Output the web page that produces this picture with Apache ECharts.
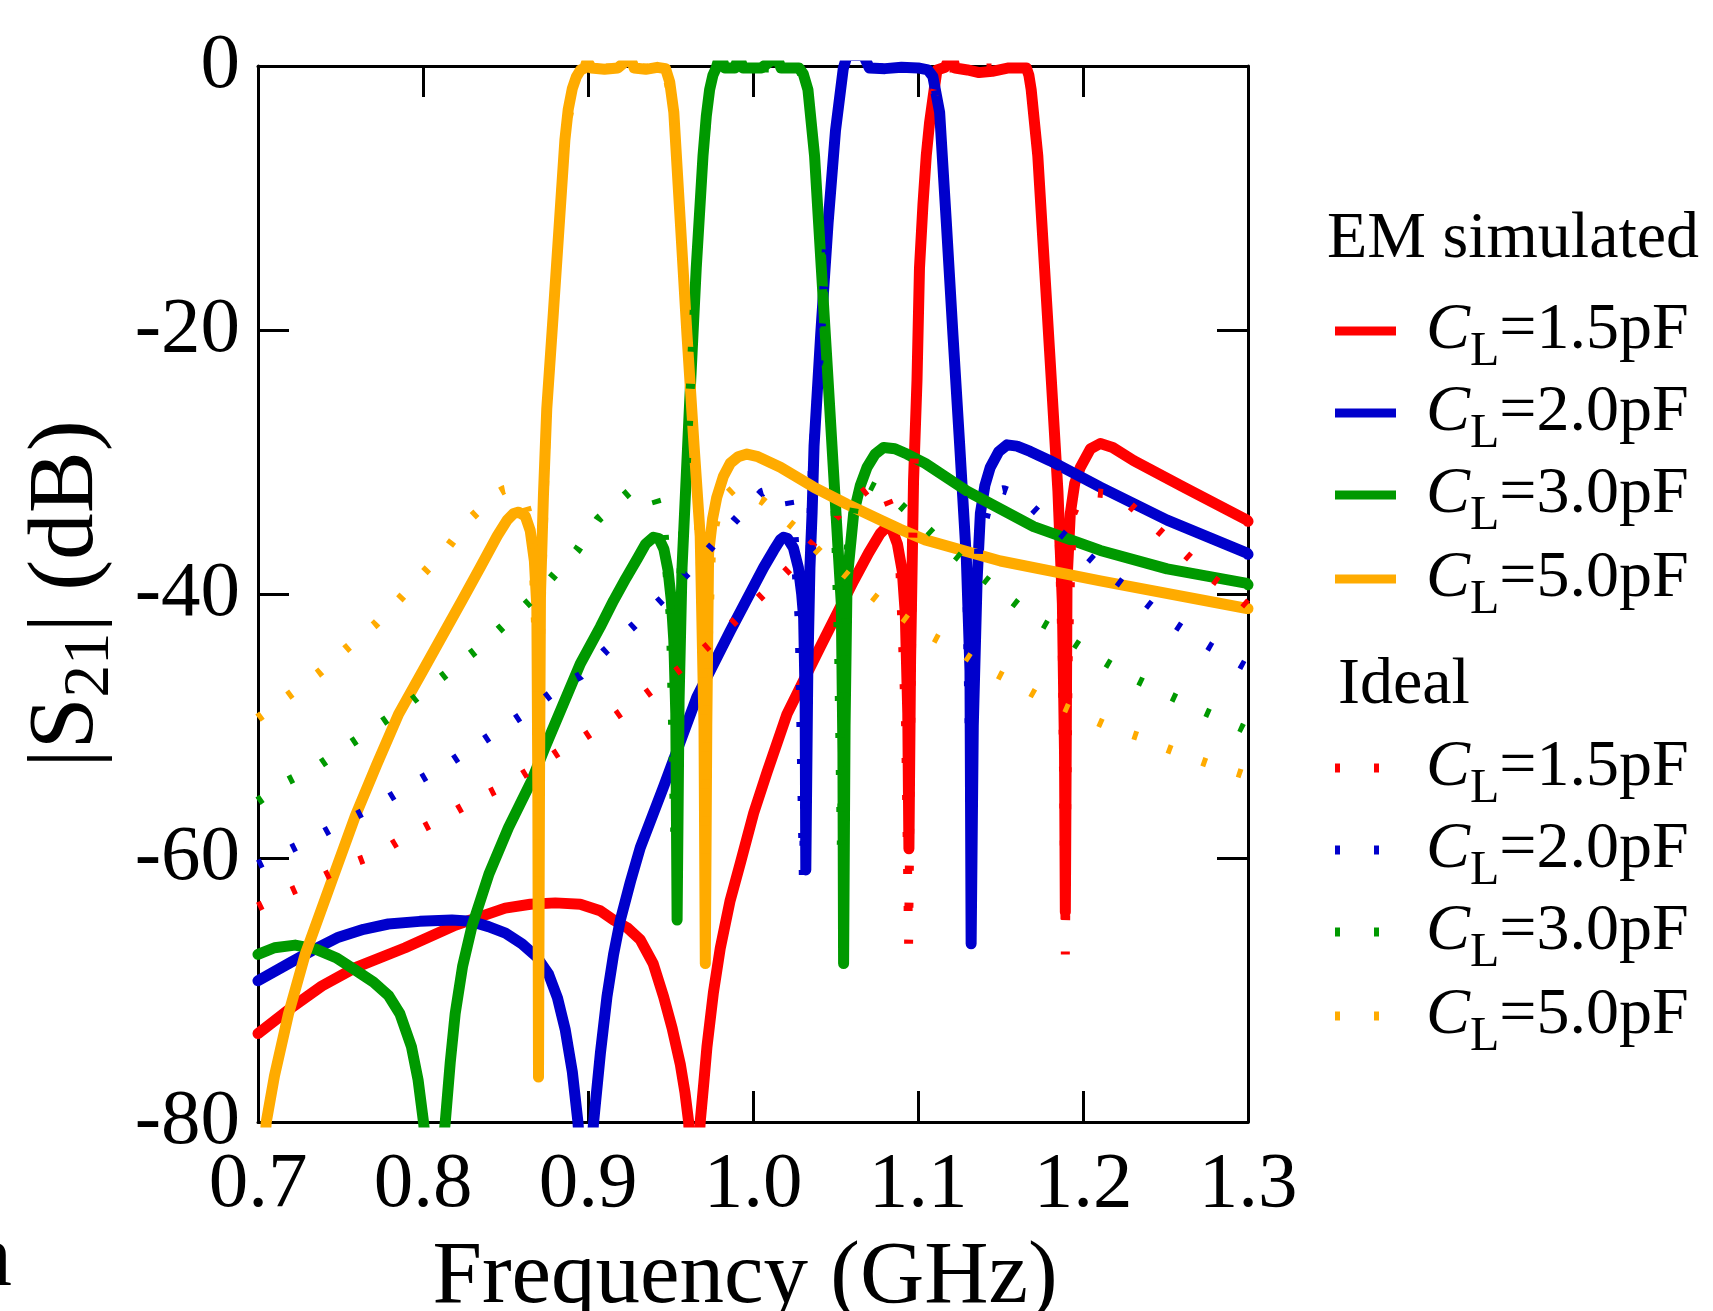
<!DOCTYPE html>
<html>
<head>
<meta charset="utf-8">
<title>|S21| vs frequency</title>
<script src="https://cdn.jsdelivr.net/npm/echarts@6/dist/echarts.min.js"></script>
<style>
  html, body { margin: 0; padding: 0; background: #fff; }
  #chart { width: 1713px; height: 1311px; }
</style>
</head>
<body>
<div id="chart"></div>
<script>
// tick labels
const xTickLabels = ['0.7', '0.8', '0.9', '1.0', '1.1', '1.2', '1.3']
const yTickLabels = ['-80', '-60', '-40', '-20', '0']

// legend text: C_L values
const capValues = ['1.5pF', '2.0pF', '3.0pF', '5.0pF']
const colors = ['#ff0000', '#0000cc', '#009900', '#ffab00']

// EM simulated, [GHz, dB]
const em15 = [[0.700,-73.3],[0.7185,-71.5],[0.7387,-69.7],[0.759,-68.3],[0.7892,-66.8],[0.8195,-65.1],[0.8498,-63.8],[0.865,-63.5],[0.8802,-63.4],[0.8953,-63.5],[0.9074,-64.0],[0.9155,-64.7],[0.924,-65.3],[0.9317,-66.2],[0.9395,-68.0],[0.9458,-70.5],[0.951,-72.9],[0.9559,-75.6],[0.9588,-77.8],[0.961,-80],[0.9645,-88],[0.968,-80],[0.9702,-77.0],[0.9721,-74.3],[0.976,-70.2],[0.9802,-66.8],[0.986,-63.3],[0.9923,-60.4],[1.0004,-56.6],[1.0085,-53.5],[1.0206,-49.1],[1.0408,-44.0],[1.061,-39.0],[1.07,-36.9],[1.0772,-35.4],[1.0812,-34.9],[1.0845,-35.2],[1.0875,-36.2],[1.0905,-38.3],[1.0923,-41.5],[1.0938,-49],[1.0945,-59.3],[1.0955,-45],[1.0973,-31.4],[1.0994,-23.8],[1.1009,-15.3],[1.103,-10.5],[1.105,-6.8],[1.107,-4.3],[1.109,-2.5],[1.1115,-0.3],[1.1165,-0.1],[1.119,0.6],[1.121,0.6],[1.1225,-0.15],[1.13,-0.3],[1.137,-0.5],[1.145,-0.4],[1.155,-0.15],[1.1657,-0.15],[1.1672,-0.7],[1.1686,-1.8],[1.1726,-6.8],[1.1767,-15.3],[1.1808,-23.8],[1.1848,-32.2],[1.1875,-40.7],[1.1888,-52],[1.1893,-64.1],[1.1899,-50],[1.1903,-39.0],[1.1923,-33.9],[1.195,-31.6],[1.1984,-30.4],[1.2045,-29.0],[1.2105,-28.6],[1.218,-28.9],[1.2307,-29.9],[1.261,-31.9],[1.2994,-34.4],[1.3,-34.5]]
const em20 = [[0.700,-69.3],[0.7185,-68.0],[0.733,-67.0],[0.7488,-66.0],[0.764,-65.4],[0.779,-65.0],[0.798,-64.8],[0.8175,-64.7],[0.829,-64.8],[0.8397,-65.2],[0.85,-65.7],[0.86,-66.5],[0.869,-67.5],[0.8761,-68.8],[0.8815,-70.6],[0.8862,-73.0],[0.8905,-76.2],[0.8939,-80],[0.8985,-88],[0.9034,-80],[0.9075,-74.8],[0.9115,-70.5],[0.9155,-67.3],[0.9196,-64.7],[0.9257,-61.8],[0.9317,-59.2],[0.9458,-54.6],[0.966,-47.8],[0.9862,-42.8],[1.0064,-38.0],[1.0125,-36.7],[1.0165,-35.9],[1.0185,-35.7],[1.021,-35.8],[1.0245,-36.5],[1.0275,-38.0],[1.0295,-40.0],[1.0307,-41.8],[1.0316,-48],[1.032,-60.9],[1.0332,-46],[1.0345,-38],[1.0358,-33.9],[1.037,-28.8],[1.041,-20.4],[1.0455,-11.9],[1.05,-4.9],[1.0547,-0.2],[1.057,0.8],[1.067,0.8],[1.0705,-0.15],[1.08,-0.2],[1.09,-0.1],[1.1,-0.15],[1.106,-0.3],[1.109,-0.8],[1.1131,-3.5],[1.1172,-11.9],[1.1212,-20.4],[1.1253,-28.8],[1.1293,-37.3],[1.1315,-45.8],[1.1322,-66.5],[1.1335,-50],[1.1358,-39.0],[1.1378,-33.9],[1.1405,-31.8],[1.1438,-30.4],[1.149,-29.2],[1.154,-28.7],[1.16,-28.8],[1.168,-29.2],[1.18,-29.9],[1.2105,-31.9],[1.251,-34.4],[1.2994,-36.9],[1.3,-37.0]]
const em30 = [[0.700,-67.3],[0.71,-66.8],[0.7225,-66.6],[0.735,-66.9],[0.748,-67.6],[0.759,-68.5],[0.77,-69.4],[0.779,-70.4],[0.786,-71.8],[0.793,-74.3],[0.797,-76.8],[0.8003,-80],[0.807,-88],[0.8135,-80],[0.8165,-75.5],[0.8195,-71.8],[0.824,-68.2],[0.8296,-65.2],[0.84,-61.2],[0.8518,-57.7],[0.866,-54.1],[0.874,-51.6],[0.8953,-45.3],[0.9074,-42.5],[0.9155,-40.5],[0.923,-38.8],[0.93,-37.3],[0.935,-36.2],[0.9397,-35.7],[0.943,-35.8],[0.946,-36.6],[0.9485,-38.2],[0.9505,-40.5],[0.952,-43.5],[0.9532,-49],[0.954,-64.7],[0.9552,-48],[0.957,-38],[0.9616,-25.5],[0.9656,-15.3],[0.9697,-6.8],[0.9717,-3.8],[0.9737,-1.8],[0.9757,-0.7],[0.9777,-0.15],[0.979,0.4],[0.9815,0.4],[0.983,-0.15],[0.989,-0.15],[0.9905,0.4],[0.9925,0.4],[0.994,-0.15],[1.005,-0.15],[1.0109,0.4],[1.0153,0.4],[1.017,-0.15],[1.0279,-0.15],[1.0305,-0.6],[1.0333,-1.8],[1.0373,-6.8],[1.0414,-15.3],[1.0455,-23.8],[1.0495,-32.2],[1.0535,-40.7],[1.0545,-52],[1.0549,-68.0],[1.0558,-50],[1.057,-39.0],[1.061,-33.9],[1.065,-31.8],[1.0691,-30.4],[1.074,-29.4],[1.0792,-28.9],[1.086,-29.0],[1.0933,-29.4],[1.1044,-30.1],[1.1297,-32.2],[1.1701,-34.9],[1.2105,-36.7],[1.251,-38.1],[1.2994,-39.2],[1.3,-39.3]]
const em50 = [[0.703,-84],[0.705,-80],[0.71,-76.5],[0.7185,-71.8],[0.7286,-67.3],[0.7448,-61.7],[0.759,-56.8],[0.772,-52.9],[0.7852,-49.1],[0.80,-45.8],[0.8236,-40.5],[0.835,-37.9],[0.845,-35.6],[0.851,-34.4],[0.855,-33.9],[0.858,-33.8],[0.862,-34.1],[0.865,-35.2],[0.8675,-37.5],[0.869,-41.0],[0.8696,-55],[0.870,-76.6],[0.8706,-55],[0.8712,-40],[0.873,-32.5],[0.875,-26.0],[0.879,-18.7],[0.883,-11.2],[0.886,-5.6],[0.888,-3.3],[0.8905,-1.7],[0.893,-0.8],[0.8955,-0.3],[0.898,-0.15],[0.8995,0.4],[0.9005,0.4],[0.902,-0.15],[0.91,-0.25],[0.918,-0.15],[0.9233,0.4],[0.9263,0.4],[0.928,-0.15],[0.935,-0.25],[0.942,-0.1],[0.947,-0.2],[0.9495,-1.2],[0.952,-3.5],[0.956,-11.9],[0.960,-20.4],[0.9643,-28.8],[0.968,-35.6],[0.9703,-50],[0.9711,-68.0],[0.972,-50],[0.9731,-36.9],[0.9755,-34.3],[0.978,-32.7],[0.982,-31.1],[0.9862,-30.1],[0.991,-29.6],[0.9963,-29.4],[1.003,-29.6],[1.0166,-30.4],[1.0367,-31.9],[1.057,-33.2],[1.0772,-34.4],[1.0893,-35.1],[1.1044,-35.9],[1.15,-37.5],[1.2105,-39.0],[1.2994,-41.1],[1.3,-41.1]]

// ideal circuit, [GHz, dB]
const id15 = [[0.7,-63.7],[0.7185,-62.6],[0.7367,-61.6],[0.7529,-60.6],[0.7721,-59.7],[0.7882,-58.5],[0.7973,-57.9],[0.8145,-56.8],[0.8317,-55.6],[0.8498,-54.5],[0.867,-53.2],[0.8842,-51.8],[0.8933,-51.2],[0.9105,-49.8],[0.9276,-48.3],[0.9448,-46.7],[0.963,-45.0],[0.9802,-43.1],[0.9893,-42.0],[1.0054,-40.1],[1.0226,-38.0],[1.0388,-35.8],[1.0549,-33.5],[1.0711,-31.9],[1.078,-31.8],[1.0832,-33.4],[1.089,-38],[1.0925,-50],[1.0943,-66.5],[1.096,-45],[1.0973,-31.4],[1.0994,-23.8],[1.1009,-15.3],[1.105,-6.8],[1.109,-2.5],[1.1131,-0.15],[1.1657,-0.15],[1.1686,-1.8],[1.1726,-6.8],[1.1767,-15.3],[1.1808,-23.8],[1.1848,-32.2],[1.1875,-45],[1.1893,-67.3],[1.191,-45],[1.1935,-34],[1.1984,-32.6],[1.2045,-32.3],[1.2216,-32.5],[1.2388,-34.4],[1.256,-36.3],[1.2731,-38.2],[1.2772,-38.7],[1.2954,-40.4],[1.3,-40.9]]
const id20 = [[0.7,-60.5],[0.7185,-59.4],[0.7367,-58.3],[0.7529,-57.2],[0.7721,-56.0],[0.7892,-54.7],[0.8145,-52.9],[0.8317,-51.5],[0.8488,-50.1],[0.867,-48.6],[0.8842,-46.9],[0.8953,-46.2],[0.9105,-44.3],[0.9276,-42.4],[0.9448,-40.4],[0.9609,-38.3],[0.9771,-36.1],[0.9893,-34.4],[1.0054,-32.3],[1.014,-32.0],[1.0216,-32.7],[1.0246,-34.9],[1.028,-42],[1.0305,-61.4],[1.033,-45],[1.036,-30],[1.041,-20.4],[1.0455,-11.9],[1.05,-4.9],[1.0547,-0.15],[1.106,-0.15],[1.109,-0.8],[1.1131,-3.5],[1.1172,-11.9],[1.1212,-20.4],[1.1253,-28.8],[1.1293,-37.3],[1.131,-50],[1.1322,-60],[1.134,-45],[1.137,-36],[1.1449,-32.3],[1.152,-32.1],[1.161,-32.5],[1.1792,-34.6],[1.1984,-36.6],[1.2155,-38.5],[1.2337,-40.2],[1.251,-41.9],[1.2681,-43.3],[1.2772,-44.0],[1.2954,-45.3],[1.3,-45.6]]
const id30 = [[0.7,-55.7],[0.7175,-54.2],[0.7367,-53.0],[0.7529,-51.6],[0.771,-50.1],[0.7882,-48.6],[0.7973,-47.7],[0.8145,-46.0],[0.8317,-44.3],[0.8488,-42.4],[0.866,-40.4],[0.8822,-38.2],[0.8933,-36.7],[0.9064,-34.3],[0.9246,-32.3],[0.933,-32.0],[0.9408,-32.7],[0.9458,-34.8],[0.95,-42],[0.9525,-58],[0.955,-42],[0.958,-33.9],[0.9616,-25.5],[0.9656,-15.3],[0.9697,-6.8],[0.9737,-1.8],[0.9777,-0.15],[1.0279,-0.15],[1.0333,-1.8],[1.0373,-6.8],[1.0414,-15.3],[1.0455,-23.8],[1.0495,-32.2],[1.052,-45],[1.0535,-59],[1.0555,-45],[1.058,-36],[1.063,-32.3],[1.0701,-31.7],[1.0782,-32.2],[1.0852,-32.8],[1.1024,-34.7],[1.1196,-36.7],[1.1368,-38.5],[1.154,-40.2],[1.1711,-41.9],[1.1812,-42.6],[1.1984,-44.0],[1.2155,-45.3],[1.2327,-46.5],[1.251,-47.6],[1.2681,-48.6],[1.2772,-49.1],[1.2954,-50.1],[1.3,-50.4]]
const id50 = [[0.7,-49.4],[0.7185,-47.7],[0.7367,-46.0],[0.7539,-44.1],[0.771,-42.3],[0.7872,-40.2],[0.7973,-38.8],[0.8135,-36.7],[0.8276,-34.4],[0.8448,-32.4],[0.849,-32.1],[0.853,-32.0],[0.857,-32.2],[0.861,-32.7],[0.866,-34.9],[0.869,-45],[0.8702,-62],[0.8714,-42],[0.875,-26.0],[0.879,-18.7],[0.886,-5.2],[0.893,-0.8],[0.898,-0.15],[0.947,-0.15],[0.952,-3.5],[0.956,-11.9],[0.960,-20.4],[0.9643,-28.8],[0.968,-37],[0.9705,-50],[0.9712,-60],[0.9725,-45],[0.975,-36],[0.98,-33],[0.9893,-31.9],[1.0064,-33.0],[1.0246,-34.9],[1.0408,-36.9],[1.0579,-38.7],[1.0761,-40.5],[1.0852,-41.2],[1.1024,-42.8],[1.1206,-44.0],[1.1378,-45.4],[1.155,-46.5],[1.1722,-47.7],[1.1984,-49.1],[1.2166,-50.1],[1.2337,-50.8],[1.251,-51.7],[1.2681,-52.5],[1.2772,-52.9],[1.2954,-53.6],[1.3,-53.8]]

const emData = [em15, em20, em30, em50]
const idealData = [id15, id20, id30, id50]

const FONT = '"Liberation Serif", "Times New Roman", serif'
const dotDash = [5, 32]

var chart = echarts.init(document.getElementById('chart'), null, { renderer: 'canvas' })

let series = []
emData.forEach(function (d, i) {
  series.push({
    name: 'EM ' + capValues[i],
    type: 'line',
    data: d,
    symbol: 'none',
    silent: true,
    clip: true,
    lineStyle: { color: colors[i], width: 11, cap: 'round', join: 'round' }
  })
})
idealData.forEach(function (d, i) {
  series.push({
    name: 'Ideal ' + capValues[i],
    type: 'line',
    data: d,
    symbol: 'none',
    silent: true,
    clip: true,
    lineStyle: { color: colors[i], width: 9, type: dotDash, cap: 'butt' }
  })
})

// legend drawn by hand (two groups with headers)
const legendX = 1335
const emRows = [331, 413, 495, 579]
const idealRows = [768, 850, 932, 1016]
const richCL = {
  c: { fontFamily: FONT, fontSize: 66, fontStyle: 'italic', lineHeight: 90 },
  s: { fontFamily: FONT, fontSize: 48, lineHeight: 52, verticalAlign: 'bottom' },
  n: { fontFamily: FONT, fontSize: 66, lineHeight: 90 }
}
let graphics = [
  { type: 'text', x: 1327, y: 240, style: { text: 'EM simulated', font: '66px ' + FONT, fill: '#000', verticalAlign: 'middle' } },
  { type: 'text', x: 1338, y: 686, style: { text: 'Ideal', font: '66px ' + FONT, fill: '#000', verticalAlign: 'middle' } },
  // clipped glyph from the neighbouring panel
  { type: 'text', x: 12, y: 1262, style: { text: 'n', font: '88px ' + FONT, fill: '#000', align: 'right', verticalAlign: 'middle' } }
]
function addRow(y, i, dashed) {
  graphics.push({
    type: 'line',
    shape: { x1: legendX, y1: y, x2: legendX + 61, y2: y },
    style: { stroke: colors[i], lineWidth: 9, lineDash: dashed ? [5, 34] : null, lineCap: 'butt' }
  })
  graphics.push({
    type: 'text', x: legendX + 91, y: y,
    style: { text: '{c|C}{s|L}{n|=' + capValues[i] + '}', rich: richCL, fill: '#000', verticalAlign: 'middle', align: 'left' }
  })
}
emRows.forEach(function (y, i) { addRow(y, i, false) })
idealRows.forEach(function (y, i) { addRow(y, i, true) })

const axisLine = { show: true, onZero: false, lineStyle: { color: '#000', width: 3 } }
const axisTick = { show: true, inside: true, length: 31, lineStyle: { color: '#000', width: 3 } }

let option = {
  animation: false,
  backgroundColor: '#fff',
  grid: { left: 258, top: 66, width: 990, height: 1056, show: false, containLabel: false, outerBoundsMode: 'none' },
  xAxis: [
    {
      type: 'value', min: 0.7, max: 1.3, interval: 0.1, position: 'bottom',
      axisLine: axisLine, axisTick: axisTick, splitLine: { show: false },
      axisLabel: {
        color: '#000', fontFamily: FONT, fontSize: 79, margin: 24,
        formatter: function (v) { return xTickLabels[Math.round((v - 0.7) / 0.1)] }
      },
      name: 'Frequency (GHz)', nameLocation: 'middle', nameGap: 112,
      nameTextStyle: { color: '#000', fontFamily: FONT, fontSize: 89, padding: [0, 16, 0, 0] }
    },
    {
      type: 'value', min: 0.7, max: 1.3, interval: 0.1, position: 'top',
      axisLine: axisLine, axisTick: axisTick, splitLine: { show: false }, axisLabel: { show: false }
    }
  ],
  yAxis: [
    {
      type: 'value', min: -80, max: 0, interval: 20, position: 'left',
      axisLine: axisLine, axisTick: axisTick, splitLine: { show: false },
      axisLabel: {
        color: '#000', fontFamily: FONT, fontSize: 79, margin: 18,
        formatter: function (v) { return yTickLabels[Math.round((v + 80) / 20)] }
      },
      name: '|S{s|21}| (dB)', nameLocation: 'middle', nameGap: 113, nameRotate: 90,
      nameTextStyle: {
        color: '#000', fontFamily: FONT, fontSize: 93, lineHeight: 112,
        rich: { s: { fontFamily: FONT, fontSize: 65, lineHeight: 60, verticalAlign: 'bottom' } }
      }
    },
    {
      type: 'value', min: -80, max: 0, interval: 20, position: 'right',
      axisLine: axisLine, axisTick: axisTick, splitLine: { show: false }, axisLabel: { show: false }
    }
  ],
  graphic: graphics,
  series: series
}
chart.setOption(option)
window.onresize = function () { chart.resize() }
</script>
</body>
</html>
